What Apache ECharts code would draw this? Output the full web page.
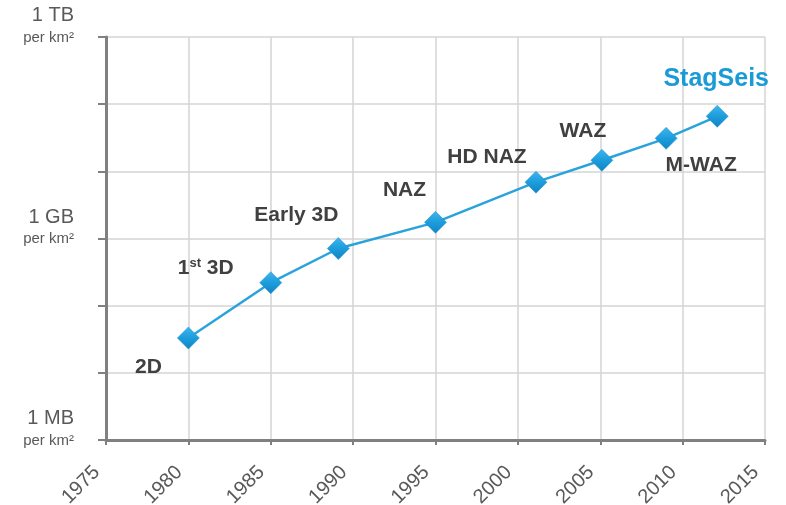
<!DOCTYPE html>
<html>
<head>
<meta charset="utf-8">
<script src="https://cdn.jsdelivr.net/npm/echarts@6/dist/echarts.min.js"></script>
<style>html,body{margin:0;padding:0;background:#fff}#c{width:786px;height:505px}</style>
</head>
<body>
<div id="c"></div>
<script>
const years = [1980, 1985, 1989.1, 1995, 2001.1, 2005.1, 2009, 2012.1];
const bytesPerKm2 = [3.3e7, 2.2e8, 7.1e8, 1.74e9, 6.9e9, 1.46e10, 3.1e10, 6.6e10];
const surveyNames = ['2D', '1st 3D', 'Early 3D', 'NAZ', 'HD NAZ', 'WAZ', 'M-WAZ', 'StagSeis'];
const yTickValues = [1e6, 1e9, 1e12];
const yTickLabels = ['1 MB', '1 GB', '1 TB'];

const labelOffsets = [[-40, 29], [-65, -14], [-42, -33], [-31, -32], [-49, -25], [-19, -29], [35, 27], [-1, -37]];
const FONT = 'Liberation Sans, Arial, sans-serif';

const chart = echarts.init(document.getElementById('c'));
const data = years.map((y, i) => {
  const isLast = i === years.length - 1;
  return {
    value: [y, bytesPerKm2[i]],
    name: surveyNames[i],
    label: {
      show: true,
      position: 'inside',
      offset: labelOffsets[i],
      color: isLast ? '#1a9bd8' : '#404040',
      fontSize: isLast ? 25 : 21,
      fontWeight: 'bold',
      fontFamily: FONT,
      formatter: (p) => {
        if (p.name === '1st 3D') return '1{sup|st} 3D';
        return p.name;
      },
      rich: {
        sup: { fontSize: 13, fontWeight: 'bold', color: '#404040', verticalAlign: 'top', padding: [0, 0, 10, 0], fontFamily: FONT }
      }
    }
  };
});

chart.setOption({
  animation: false,
  grid: { left: 106, right: 21, top: 37, bottom: 65, containLabel: false, outerBoundsMode: 'none' },
  xAxis: {
    type: 'value', min: 1975, max: 2015, interval: 5,
    axisLine: { show: true, lineStyle: { color: '#808080', width: 3 } },
    axisTick: { show: true, inside: false, length: 5, lineStyle: { color: '#808080', width: 2 } },
    splitLine: { show: true, lineStyle: { color: '#d4d4d4', width: 1.5 } },
    axisLabel: {
      rotate: 45, margin: 20, color: '#595959', fontSize: 20,
      fontFamily: FONT,
      padding: [0, 13, 0, 0],
      formatter: (v) => String(v)
    }
  },
  yAxis: {
    type: 'log', logBase: 10, min: 1e6, max: 1e12,
    axisLine: { show: true, lineStyle: { color: '#808080', width: 3 } },
    axisTick: { show: true, inside: false, length: 8, lineStyle: { color: '#808080', width: 2 } },
    splitLine: { show: true, lineStyle: { color: '#d4d4d4', width: 1.5 } },
    axisLabel: {
      margin: 32, align: 'right',
      fontFamily: FONT,
      padding: [0, 0, 23, 0],
      formatter: (v) => {
        const idx = yTickValues.findIndex(t => Math.abs(Math.log10(t) - Math.log10(v)) < 1e-6);
        if (idx < 0) return '';
        return '{big|' + yTickLabels[idx] + '}\n{small|per km²}';
      },
      rich: {
        big: { fontSize: 20, color: '#595959', lineHeight: 24, align: 'right', fontFamily: FONT },
        small: { fontSize: 15, color: '#595959', lineHeight: 20, align: 'right', fontFamily: FONT }
      }
    }
  },
  series: [{
    type: 'line',
    data: data,
    symbol: 'diamond',
    symbolSize: 22,
    lineStyle: { color: '#2aa3dc', width: 2.5 },
    itemStyle: {
      color: new echarts.graphic.LinearGradient(0, 0, 0, 1, [
        { offset: 0, color: '#3fb6ee' },
        { offset: 0.5, color: '#1c9ddc' },
        { offset: 1, color: '#1383c2' }
      ]),
      borderColor: '#1a8fcf', borderWidth: 0.5
    }
  }]
});
</script>
</body>
</html>
